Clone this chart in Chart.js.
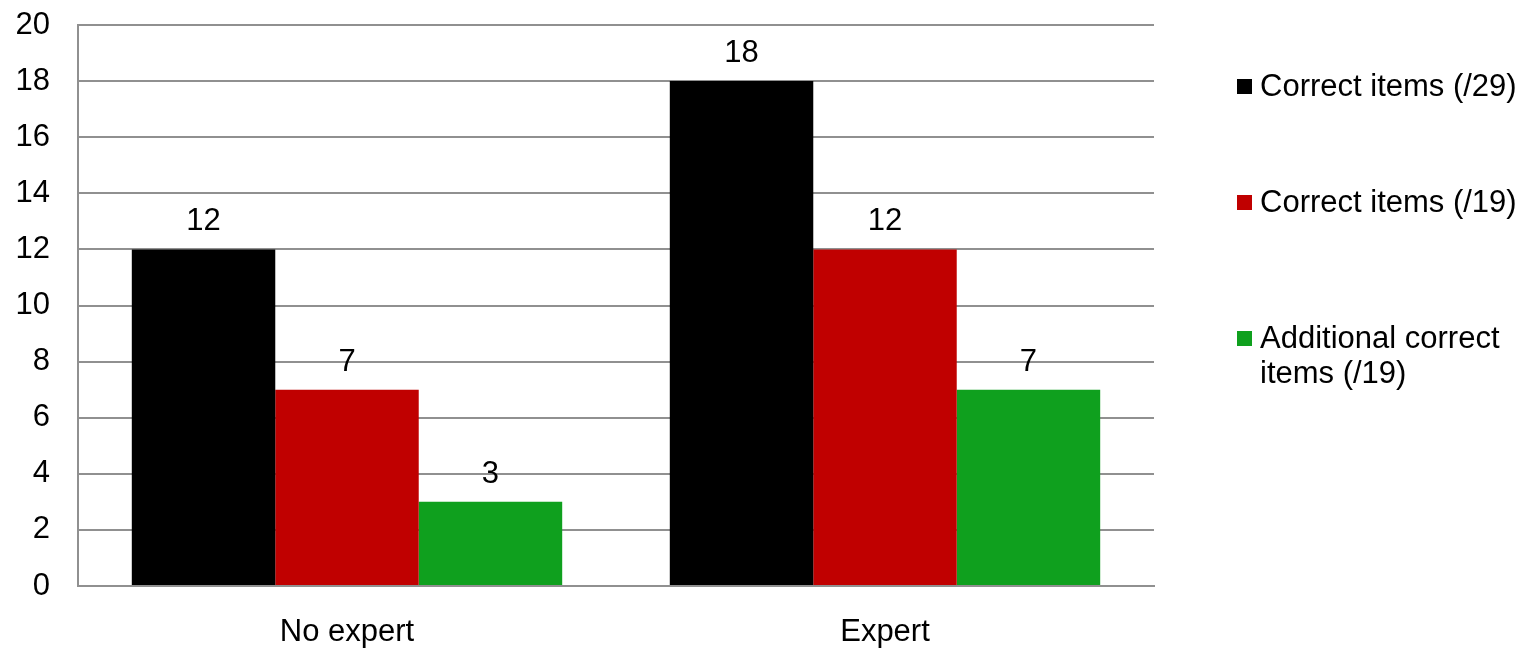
<!DOCTYPE html>
<html>
<head>
<meta charset="utf-8">
<script src="https://cdn.jsdelivr.net/npm/chart.js@4/dist/chart.umd.min.js"></script>
<style>
  html, body { margin: 0; padding: 0; background: #ffffff; }
  #wrap { width: 1530px; height: 649px; position: relative; }
</style>
</head>
<body>
<div id="wrap"><canvas id="chart"></canvas></div>
<script>
// Group labels along the x axis
const categories = ['No expert', 'Expert'];

// Series names (legend lines) and colours
const seriesNames = [
  ['Correct items (/29)'],
  ['Correct items (/19)'],
  ['Additional correct', 'items (/19)']
];
const seriesColors = ['#000000', '#C00000', '#0FA01E'];

// Values per series, one per group
const correct29 = [12, 18];
const correct19 = [7, 12];
const additional19 = [3, 7];

// Y axis range and tick step
const yMin = 0;
const yMax = 20;
const yStep = 2;

const FONT = 'Liberation Sans, Arial, Helvetica, sans-serif';
const GRID = '#909090';

const seriesValues = [correct29, correct19, additional19];

// Value labels above each bar
const valueLabels = {
  id: 'valueLabels',
  afterDatasetsDraw(chart) {
    const ctx = chart.ctx;
    ctx.save();
    ctx.font = '31px ' + FONT;
    ctx.fillStyle = '#000000';
    ctx.textAlign = 'center';
    ctx.textBaseline = 'alphabetic';
    chart.data.datasets.forEach((ds, i) => {
      chart.getDatasetMeta(i).data.forEach((bar, j) => {
        ctx.fillText(String(ds.data[j]), bar.x, bar.y - 19);
      });
    });
    ctx.restore();
  }
};

// Legend on the right, with wrapped series names
const sideLegend = {
  id: 'sideLegend',
  afterDraw(chart) {
    const ctx = chart.ctx;
    const rowY = [87, 203, 339];
    const lineGap = 35;
    ctx.save();
    ctx.font = '31px ' + FONT;
    ctx.textAlign = 'left';
    ctx.textBaseline = 'middle';
    seriesNames.forEach((lines, i) => {
      const y = rowY[i];
      ctx.fillStyle = seriesColors[i];
      ctx.fillRect(1237, y - 8, 15, 15);
      ctx.fillStyle = '#000000';
      lines.forEach((t, k) => ctx.fillText(t, 1260, y + k * lineGap));
    });
    ctx.restore();
  }
};

new Chart(document.getElementById('chart'), {
  type: 'bar',
  data: {
    labels: categories,
    datasets: seriesValues.map((vals, i) => ({
      label: seriesNames[i].join(' '),
      data: vals,
      backgroundColor: seriesColors[i],
      borderWidth: 0,
      categoryPercentage: 0.8,
      barPercentage: 1.0
    }))
  },
  options: {
    responsive: true,
    maintainAspectRatio: false,
    animation: false,
    layout: { padding: { left: 15, right: 376, top: 25, bottom: 0 } },
    plugins: {
      legend: { display: false },
      tooltip: { enabled: false }
    },
    scales: {
      x: {
        grid: { display: false, drawTicks: false },
        border: { display: true, color: GRID, width: 2 },
        ticks: {
          color: '#000000',
          font: { family: FONT, size: 31, lineHeight: 1 },
          padding: 31
        },
        afterFit(scale) { scale.height = 63; scale.paddingLeft = 0; scale.paddingRight = 0; }
      },
      y: {
        min: yMin,
        max: yMax,
        grid: { color: GRID, lineWidth: 2, drawTicks: false },
        border: { display: true, color: GRID, width: 2 },
        ticks: {
          stepSize: yStep,
          color: '#000000',
          font: { family: FONT, size: 31, lineHeight: 1 },
          padding: 28
        },
        afterFit(scale) { scale.width = 63; scale.paddingTop = 0; scale.paddingBottom = 0; }
      }
    }
  },
  plugins: [valueLabels, sideLegend]
});
</script>
</body>
</html>
